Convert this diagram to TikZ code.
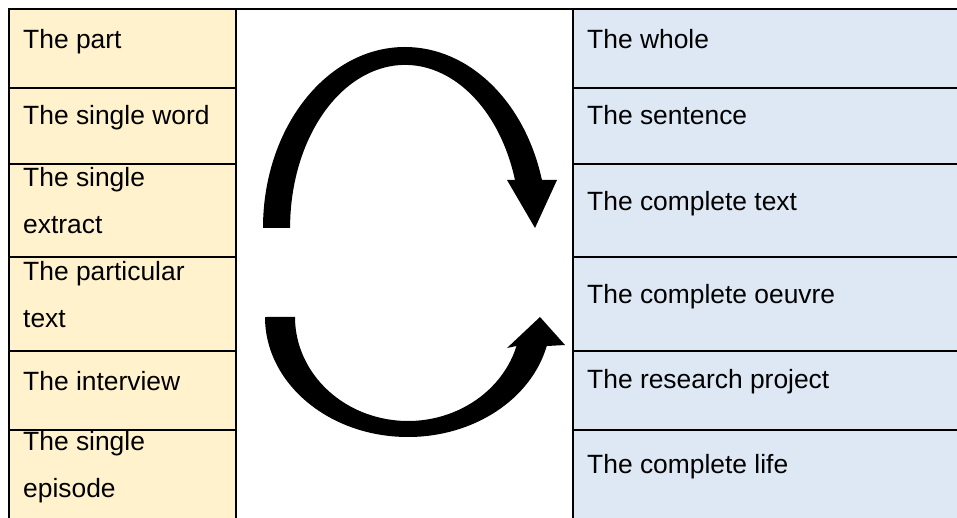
\documentclass[tikz,border=0pt]{standalone}
\usepackage{fontspec}
\setmainfont{Liberation Sans}
\definecolor{partfill}{HTML}{FFF2CC}
\definecolor{wholefill}{HTML}{DDE8F4}
\newcommand\twolines[2]{\vtop{\hbox{#1}\hbox{#2}}}
\begin{document}
\begin{tikzpicture}[x=1pt,y=-1pt,line join=miter,
  cell/.style={draw=black,line width=1.8pt,rectangle,inner sep=0pt,anchor=north west},
  partcell/.style={cell,fill=partfill,minimum width=227pt},
  wholecell/.style={cell,fill=wholefill,minimum width=393pt},
  midcell/.style={cell,fill=white,minimum width=337pt},
  lbl/.style={anchor=base west,inner sep=0pt,font=\fontsize{26.4}{46.5}\selectfont},
  bigarrow/.style={fill=black}]
\useasboundingbox (0,0) rectangle (957,518);
% middle column
\node[midcell,minimum height=517pt] (mid) at (235,8) {};
% left column
\node[partcell,minimum height=79pt] (pc1) at (8,8) {};
\node[partcell,minimum height=76pt] (pc2) at (8,87) {};
\node[partcell,minimum height=93pt] (pc3) at (8,163) {};
\node[partcell,minimum height=94pt] (pc4) at (8,256) {};
\node[partcell,minimum height=79pt] (pc5) at (8,350) {};
\node[partcell,minimum height=96pt] (pc6) at (8,429) {};
% right column
\node[wholecell,minimum height=79pt] (wc1) at (572,8) {};
\node[wholecell,minimum height=76pt] (wc2) at (572,87) {};
\node[wholecell,minimum height=93pt] (wc3) at (572,163) {};
\node[wholecell,minimum height=94pt] (wc4) at (572,256) {};
\node[wholecell,minimum height=79pt] (wc5) at (572,350) {};
\node[wholecell,minimum height=96pt] (wc6) at (572,429) {};
% labels left
\node[lbl] (p1) at (23,49) {The part};
\node[lbl] (p2) at (23,125) {The single word};
\node[lbl] (p3) at (23,187) {\twolines{The single}{extract}};
\node[lbl] (p4) at (23,280.7) {\twolines{The particular}{text}};
\node[lbl] (p5) at (23,390) {The interview};
\node[lbl] (p6) at (23,450.7) {\twolines{The single}{episode}};
% labels right
\node[lbl] (w1) at (587,49) {The whole};
\node[lbl] (w2) at (587,125) {The sentence};
\node[lbl] (w3) at (587,210.7) {The complete text};
\node[lbl] (w4) at (587,303.3) {The complete oeuvre};
\node[lbl] (w5) at (587,388) {The research project};
\node[lbl] (w6) at (587,473.3) {The complete life};
% upper circular arrow
\fill[bigarrow] (263,228) arc[start angle=180,end angle=344.6,x radius=142,y radius=181]
  -- (557,180) -- (535,228) -- (507,180) -- (515,180)
  arc[start angle=342.9,end angle=180,x radius=115,y radius=163] -- cycle;
% lower circular arrow
\fill[bigarrow] (265,317) arc[start angle=180,end angle=14,x radius=143,y radius=120]
  -- (565,345) -- (540,317) -- (507,348) -- (516.5,346)
  arc[start angle=16.2,end angle=180,x radius=113,y radius=104] -- cycle;
\end{tikzpicture}
\end{document}
